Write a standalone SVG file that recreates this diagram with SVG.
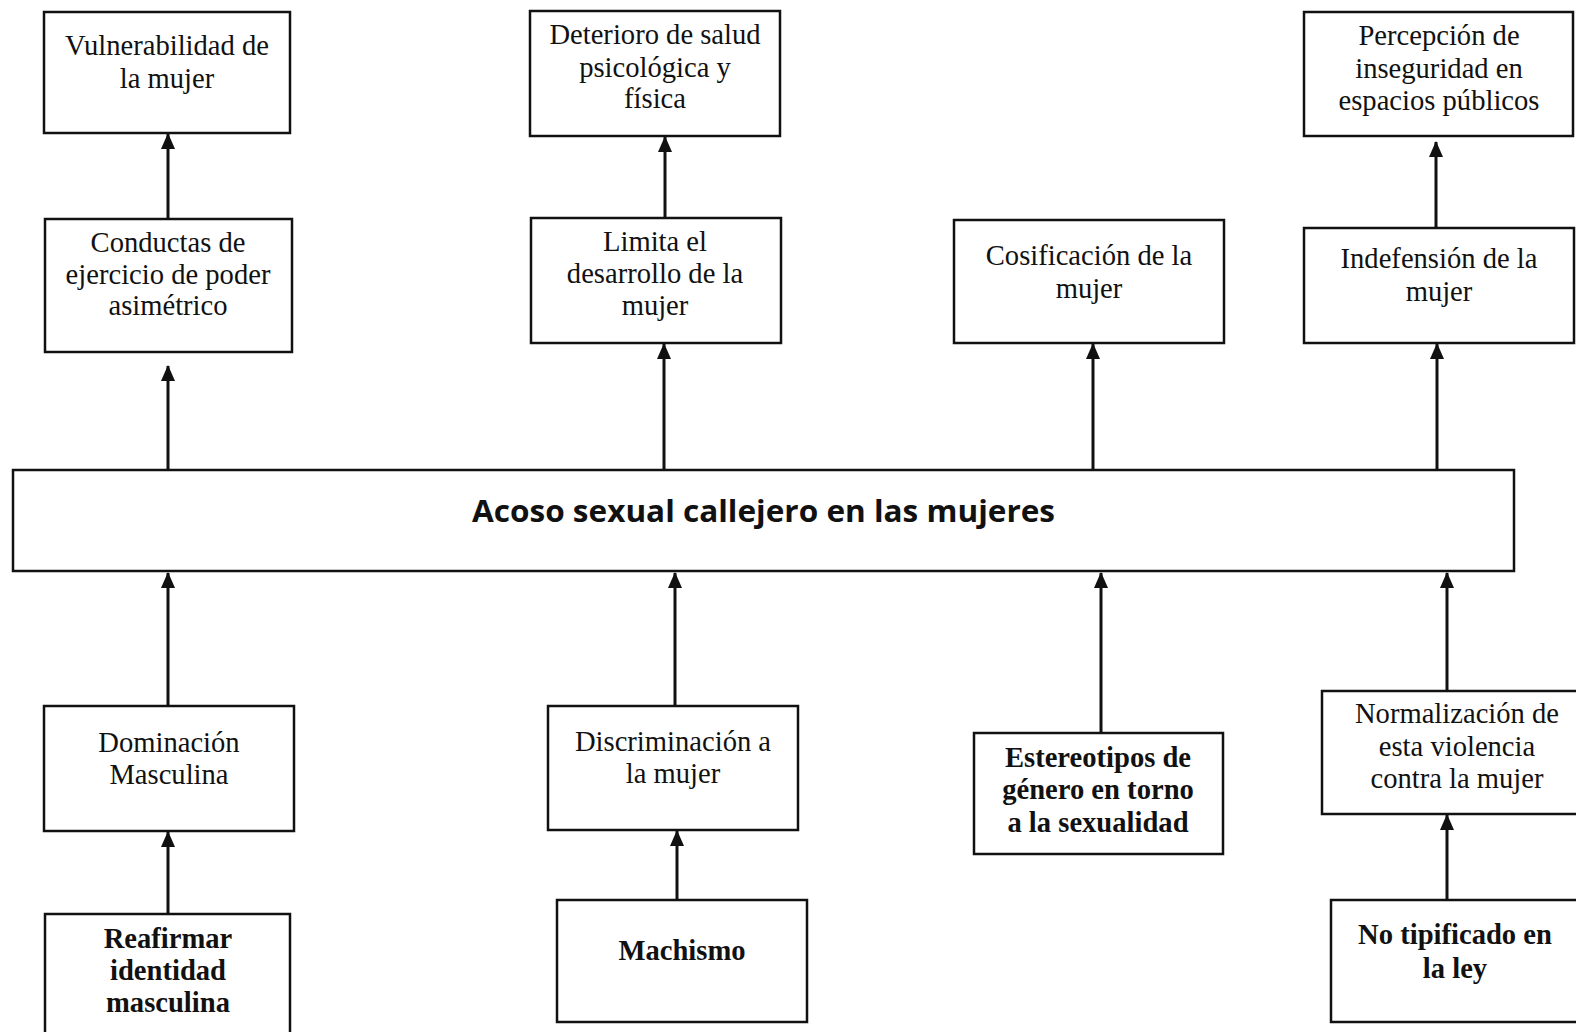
<svg xmlns="http://www.w3.org/2000/svg" width="1576" height="1032" viewBox="0 0 1576 1032">
<style>
.box{fill:#fff;stroke:#111;stroke-width:2.5}
.t{font-family:"Liberation Serif","Times New Roman",serif;font-size:28.6px;fill:#111;text-anchor:middle}
.b{font-weight:bold}
.title{font-family:"Open Sans","Liberation Sans",sans-serif;font-weight:bold;font-size:31px;fill:#111;text-anchor:start}
.c{fill:none;stroke:#111;stroke-width:3;marker-end:url(#ah)}
</style>
<defs>
<marker id="ah" markerUnits="userSpaceOnUse" markerWidth="16" markerHeight="14" viewBox="0 0 16 14" refX="15" refY="7" orient="auto">
<path d="M0,0 L16,7 L0,14 z" fill="#111"/>
</marker>
</defs>
<rect width="1576" height="1032" fill="#fff"/>
<g id="connectors">
<path class="c" d="M168,219 V134"/>
<path class="c" d="M168,470 V366"/>
<path class="c" d="M665,218 V137"/>
<path class="c" d="M664,470 V344"/>
<path class="c" d="M1093,470 V344"/>
<path class="c" d="M1437,470 V344"/>
<path class="c" d="M1436,228 V142"/>
<path class="c" d="M168,706 V573"/>
<path class="c" d="M168,914 V832"/>
<path class="c" d="M675,706 V573"/>
<path class="c" d="M677,900 V831"/>
<path class="c" d="M1101,733 V573"/>
<path class="c" d="M1447,691 V573"/>
<path class="c" d="M1447,900 V815"/>
</g>
<g id="n-vulnerabilidad">
<rect class="box" x="44" y="12" width="246" height="121"/>
<text class="t" x="167" y="55">Vulnerabilidad de</text>
<text class="t" x="167" y="88">la mujer</text>
</g>
<g id="n-conductas">
<rect class="box" x="45" y="219" width="247" height="133"/>
<text class="t" x="168" y="252">Conductas de</text>
<text class="t" x="168" y="284">ejercicio de poder</text>
<text class="t" x="168" y="315">asimétrico</text>
</g>
<g id="n-deterioro">
<rect class="box" x="530" y="11" width="250" height="125"/>
<text class="t" x="655" y="44">Deterioro de salud</text>
<text class="t" x="655" y="77">psicológica y</text>
<text class="t" x="655" y="108">física</text>
</g>
<g id="n-limita">
<rect class="box" x="531" y="218" width="250" height="125"/>
<text class="t" x="655" y="251">Limita el</text>
<text class="t" x="655" y="283">desarrollo de la</text>
<text class="t" x="655" y="315">mujer</text>
</g>
<g id="n-cosificacion">
<rect class="box" x="954" y="220" width="270" height="123"/>
<text class="t" x="1089" y="265">Cosificación de la</text>
<text class="t" x="1089" y="298">mujer</text>
</g>
<g id="n-indefension">
<rect class="box" x="1304" y="228" width="270" height="115"/>
<text class="t" x="1439" y="268">Indefensión de la</text>
<text class="t" x="1439" y="301">mujer</text>
</g>
<g id="n-percepcion">
<rect class="box" x="1304" y="12" width="269" height="124"/>
<text class="t" x="1439" y="45">Percepción de</text>
<text class="t" x="1439" y="78">inseguridad en</text>
<text class="t" x="1439" y="110">espacios públicos</text>
</g>
<g id="n-acoso">
<rect class="box" x="13" y="470" width="1501" height="101"/>
<text class="title" x="472" y="522" textLength="583" lengthAdjust="spacingAndGlyphs">Acoso sexual callejero en las mujeres</text>
</g>
<g id="n-dominacion">
<rect class="box" x="44" y="706" width="250" height="125"/>
<text class="t" x="169" y="752">Dominación</text>
<text class="t" x="169" y="784">Masculina</text>
</g>
<g id="n-reafirmar">
<rect class="box" x="45" y="914" width="245" height="130"/>
<text class="t b" x="168" y="948">Reafirmar</text>
<text class="t b" x="168" y="980">identidad</text>
<text class="t b" x="168" y="1012">masculina</text>
</g>
<g id="n-discriminacion">
<rect class="box" x="548" y="706" width="250" height="124"/>
<text class="t" x="673" y="751">Discriminación a</text>
<text class="t" x="673" y="783">la mujer</text>
</g>
<g id="n-machismo">
<rect class="box" x="557" y="900" width="250" height="122"/>
<text class="t b" x="682" y="960">Machismo</text>
</g>
<g id="n-estereotipos">
<rect class="box" x="974" y="733" width="249" height="121"/>
<text class="t b" x="1098" y="767">Estereotipos de</text>
<text class="t b" x="1098" y="799">género en torno</text>
<text class="t b" x="1098" y="832">a la sexualidad</text>
</g>
<g id="n-normalizacion">
<rect class="box" x="1322" y="691" width="270" height="123"/>
<text class="t" x="1457" y="723">Normalización de</text>
<text class="t" x="1457" y="756">esta violencia</text>
<text class="t" x="1457" y="788">contra la mujer</text>
</g>
<g id="n-notipificado">
<rect class="box" x="1331" y="900" width="261" height="122"/>
<text class="t b" x="1455" y="944">No tipificado en</text>
<text class="t b" x="1455" y="978">la ley</text>
</g>
</svg>
